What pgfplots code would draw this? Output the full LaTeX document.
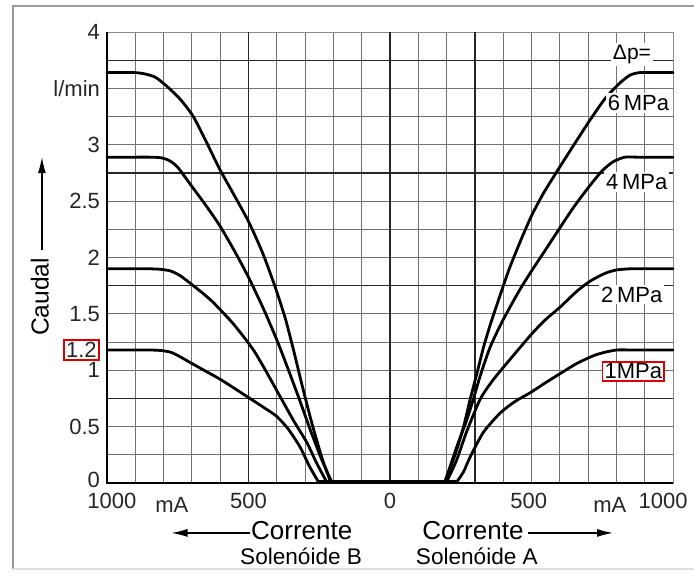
\documentclass[border=0pt]{standalone}
\usepackage{fontspec}
\setmainfont{Liberation Sans}
\usepackage{pgfplots}
\pgfplotsset{compat=1.18}
\usetikzlibrary{arrows.meta}
\setlength{\fboxsep}{0.8pt}
\setlength{\fboxrule}{0.8pt}

\begin{document}
\begin{tikzpicture}
\begin{axis}[
  name=ax, at={(0,0)}, anchor=south west,
  scale only axis, width=283pt, height=225.5pt,
  xmin=-1000, xmax=1000, ymin=0, ymax=4,
  clip=false,
  axis line style={black!45, line width=0.5pt},
  xtick={-983,-500,0,490,965},
  xticklabels={1000,500,0,500,1000},
  ytick={0.03,0.5,1,1.18,1.5,2,2.5,3,3.5,4},
  yticklabels={0,0.5,1,{\fcolorbox{red!85!black}{white}{1.2}},1.5,2,2.5,3,l/min,4},
  major tick length=0, minor tick length=0,
  minor xtick={-900,-800,...,900},
  minor ytick={0.25,0.5,...,3.75},
  xminorgrids, yminorgrids,
  minor grid style={black!55, line width=0.55pt},
  extra x ticks={-500,0,300}, extra y ticks={0.75,1.75,2.75,3.75},
  extra x tick labels={}, extra y tick labels={},
  extra tick style={grid=major, major grid style={black!85, line width=0.65pt}},
  tick label style={font=\fontsize{11}{13}\selectfont, text=black!85},
  xticklabel style={yshift=-1.5pt},
  curve/.style={black, line width=1.4pt, line join=round, line cap=round, smooth, tension=0.4},
  flat/.style={black, line width=1.6pt, line cap=round},
]
% 6 MPa
\addplot[curve] coordinates {
  (-1000,3.64) (-950,3.64) (-900,3.64) (-870,3.63) (-830,3.60) (-789,3.52)
  (-740,3.40) (-695,3.25) (-650,3.03) (-601,2.78) (-550,2.55) (-500,2.32)
  (-450,2.04) (-406,1.74) (-370,1.46) (-340,1.17) (-310,0.86) (-275,0.52)
  (-240,0.22) (-210,0.01)};
\addplot[curve] coordinates {
  (194,0.01) (230,0.25) (260,0.50) (283,0.74) (310,1.00) (330,1.20)
  (355,1.41) (383,1.62) (420,1.89) (460,2.14) (500,2.37) (540,2.56)
  (589,2.76) (650,3.00) (707,3.22) (760,3.41) (813,3.55) (850,3.62)
  (883,3.64) (920,3.64) (960,3.64) (1000,3.64)};
% 4 MPa
\addplot[curve] coordinates {
  (-1000,2.89) (-950,2.89) (-900,2.89) (-850,2.89) (-810,2.885) (-780,2.86)
  (-750,2.80) (-700,2.63) (-650,2.46) (-601,2.28) (-550,2.06) (-501,1.83)
  (-448,1.55) (-400,1.27) (-360,1.01) (-320,0.74) (-280,0.46) (-240,0.20)
  (-206,0.01)};
\addplot[curve] coordinates {
  (194,0.01) (240,0.35) (270,0.55) (294,0.74) (320,0.96) (353,1.20)
  (390,1.40) (424,1.56) (460,1.72) (500,1.88) (550,2.07) (589,2.22)
  (650,2.45) (707,2.64) (750,2.77) (789,2.85) (830,2.89) (870,2.89)
  (910,2.89) (955,2.89) (1000,2.89)};
% 2 MPa
\addplot[curve] coordinates {
  (-1000,1.90) (-950,1.90) (-900,1.90) (-850,1.90) (-810,1.895) (-775,1.88)
  (-742,1.84) (-700,1.76) (-660,1.68) (-624,1.60) (-560,1.43) (-518,1.30)
  (-480,1.17) (-440,1.00) (-389,0.77) (-340,0.55) (-294,0.36) (-260,0.18)
  (-224,0.01)};
\addplot[curve] coordinates {
  (200,0.01) (235,0.20) (270,0.45) (318,0.74) (360,0.90) (412,1.06)
  (500,1.32) (550,1.45) (601,1.56) (660,1.70) (707,1.79) (760,1.86)
  (801,1.89) (850,1.90) (900,1.90) (950,1.90) (1000,1.90)};
% 1 MPa
\addplot[curve] coordinates {
  (-1000,1.18) (-950,1.18) (-900,1.18) (-850,1.18) (-810,1.175) (-775,1.16)
  (-742,1.12) (-700,1.06) (-650,0.99) (-600,0.92) (-550,0.84) (-495,0.75)
  (-440,0.66) (-400,0.59) (-360,0.48) (-318,0.32) (-285,0.15) (-253,0.01)};
\addplot[curve] coordinates {
  (236,0.01) (260,0.10) (283,0.23) (330,0.45) (389,0.62) (440,0.72)
  (495,0.80) (550,0.89) (601,0.97) (660,1.06) (720,1.13) (760,1.16)
  (802,1.18) (850,1.18) (900,1.18) (950,1.18) (1000,1.18)};
% zero flow band
\addplot[flat] coordinates {(-253,0.01) (236,0.01)};

\draw[black, line width=0.9pt] (axis cs:-1000,4) -- (axis cs:-1000,0) -- (axis cs:1000,0);

\node[fill=white, inner sep=1pt, font=\fontsize{10.5}{12}\selectfont] at (axis cs:855,3.80) {Δp=};
\node[fill=white, inner sep=1pt, font=\fontsize{11}{13}\selectfont] at (axis cs:878,3.37) {6\,MPa};
\node[fill=white, inner sep=1pt, font=\fontsize{11}{13}\selectfont] at (axis cs:872,2.67) {4\,MPa};
\node[fill=white, inner sep=1pt, font=\fontsize{11}{13}\selectfont] at (axis cs:854,1.67) {2\,MPa};
\node[fill=white, draw=red!85!black, line width=0.8pt, inner sep=1pt, font=\fontsize{11}{13}\selectfont] at (axis cs:860,0.99) {1MPa};

\node[font=\fontsize{11}{13}\selectfont, text=black!85] at (axis cs:-771,-0.195) {mA};
\node[font=\fontsize{11}{13}\selectfont, text=black!85] at (axis cs:777,-0.195) {mA};

\node[font=\fontsize{13}{15}\selectfont] at (axis cs:-312,-0.426) {Corrente};
\draw[-{Latex[length=8pt,width=4pt]}, line width=0.6pt] (axis cs:-495,-0.443) -- (axis cs:-772,-0.443);
\node[font=\fontsize{11.3}{13}\selectfont] at (axis cs:-314,-0.647) {Solenóide B};
\node[font=\fontsize{13}{15}\selectfont] at (axis cs:293,-0.426) {Corrente};
\draw[-{Latex[length=8pt,width=4pt]}, line width=0.6pt] (axis cs:488,-0.443) -- (axis cs:788,-0.443);
\node[font=\fontsize{11.3}{13}\selectfont] at (axis cs:307,-0.647) {Solenóide A};

\node[rotate=90, font=\fontsize{12.3}{14}\selectfont] at (axis cs:-1237,1.65) {Caudal};
\draw[-{Latex[length=8pt,width=4pt]}, line width=0.6pt] (axis cs:-1230,2.07) -- (axis cs:-1230,2.89);
\end{axis}
\draw[black!40, line width=0.8pt] (300pt,238.5pt) -- (-47pt,238.5pt) -- (-47pt,-43pt);
\draw[black!12, line width=0.6pt] (-47pt,-43pt) -- (300pt,-43pt);
\pgfresetboundingbox
\path (-53.5pt,-47pt) rectangle (293.5pt,241.5pt);
\end{tikzpicture}
\end{document}
